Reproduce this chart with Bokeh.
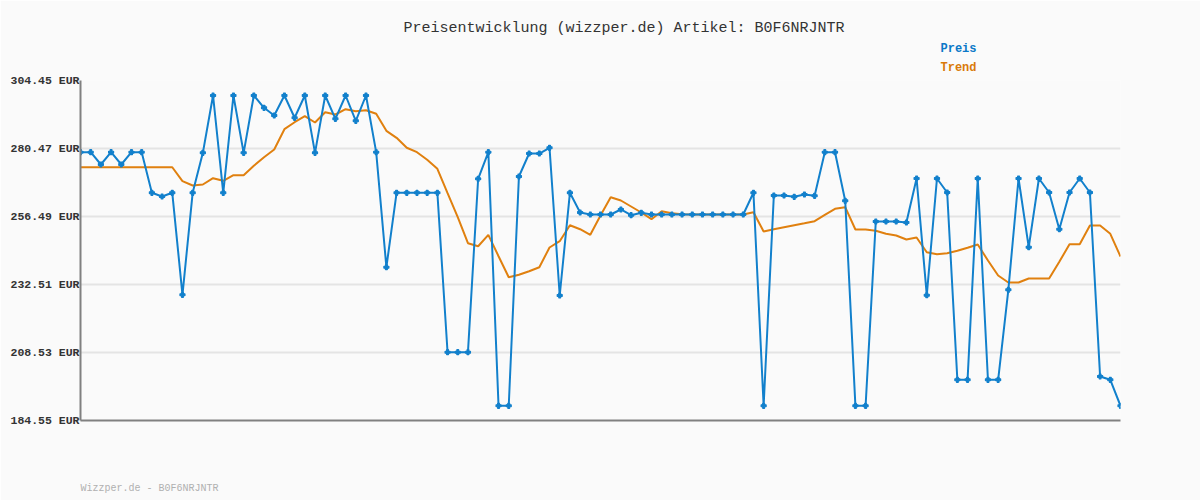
from bokeh.plotting import figure
from bokeh.models import FixedTicker, ColumnDataSource, Title
from bokeh.embed import file_html
from bokeh.resources import INLINE

title_text = "Preisentwicklung (wizzper.de) Artikel: B0F6NRJNTR"
footer_text = "Wizzper.de - B0F6NRJNTR"
series_names = ["Preis", "Trend"]
y_ticks = [184.55, 208.53, 232.51, 256.49, 280.47, 304.45]
y_tick_labels = ["184.55 EUR", "208.53 EUR", "232.51 EUR", "256.49 EUR", "280.47 EUR", "304.45 EUR"]

preis = [
    279.17, 279.17, 274.83, 279.17, 274.83, 279.17, 279.17, 264.85, 263.54, 264.85,
    228.88, 264.85, 278.95, 299.16, 264.85, 299.16, 278.95, 299.16, 294.82, 292.10,
    299.16, 291.30, 299.16, 278.95, 299.16, 290.94, 299.16, 290.24, 299.16, 279.17,
    238.61, 264.85, 264.85, 264.85, 264.85, 264.85, 208.63, 208.63, 208.63, 269.78,
    279.17, 189.73, 189.73, 270.60, 278.70, 278.70, 280.72, 228.63, 264.85, 257.90,
    257.20, 257.20, 257.20, 258.96, 256.95, 257.80, 257.20, 257.20, 257.20, 257.20,
    257.20, 257.20, 257.20, 257.20, 257.20, 257.20, 264.85, 189.73, 263.90, 263.90,
    263.44, 264.25, 263.79, 279.17, 279.17, 262.03, 189.73, 189.73, 254.73, 254.73,
    254.73, 254.37, 269.89, 228.74, 269.89, 264.95, 198.90, 198.90, 269.89, 198.90,
    198.90, 230.64, 269.89, 245.66, 269.89, 264.95, 252.01, 264.95, 269.89, 264.95,
    200.07, 198.90, 189.73,
]

trend = [
    273.87, 273.87, 273.87, 273.87, 273.87, 273.87, 273.87, 273.87, 273.87, 273.87,
    268.94, 267.42, 267.77, 270.00, 269.08, 271.05, 271.05, 274.37, 277.40, 280.12,
    287.28, 289.74, 291.86, 289.64, 293.27, 292.46, 294.33, 293.62, 293.98, 292.71,
    286.71, 284.24, 280.72, 279.17, 276.49, 273.31, 264.71, 256.24, 247.07, 246.01,
    250.03, 242.49, 235.08, 235.93, 237.20, 238.61, 245.56, 247.78, 253.42, 252.01,
    250.03, 256.84, 263.30, 262.13, 260.02, 257.90, 255.54, 258.36, 257.65, 257.30,
    257.20, 257.20, 257.20, 257.20, 257.20, 257.20, 258.00, 251.20, 252.00, 252.70,
    253.40, 254.10, 254.83, 257.09, 259.20, 259.77, 251.90, 251.90, 251.45, 250.39,
    249.79, 248.38, 249.08, 243.90, 243.20, 243.55, 244.40, 245.45, 246.62, 240.97,
    235.68, 233.21, 233.21, 234.63, 234.63, 234.63, 240.52, 246.72, 246.72, 253.32,
    253.32, 250.39, 242.38,
]

idx = list(range(len(preis)))
src = ColumnDataSource(dict(x=idx, preis=preis, trend=trend))

BG = "#fafafa"
BLUE = "#1280cc"
ORANGE = "#e0800f"
MONO = "Liberation Mono"

p = figure(
    width=1200, height=500,
    min_border_left=80, min_border_right=80, min_border_top=80, min_border_bottom=80,
    x_range=(0, len(preis) - 1), y_range=(y_ticks[0], y_ticks[-1]),
    output_backend="svg", toolbar_location=None,
    background_fill_color=BG, border_fill_color=BG, outline_line_color=None,
)

p.xgrid.visible = False
p.ygrid.ticker = FixedTicker(ticks=y_ticks)
p.ygrid.grid_line_color = "#e4e4e4"
p.ygrid.grid_line_width = 2

p.yaxis.ticker = FixedTicker(ticks=y_ticks)
p.yaxis.major_label_overrides = {t: l for t, l in zip(y_ticks, y_tick_labels)}
p.yaxis.major_tick_out = 0
p.yaxis.major_tick_in = 0
p.yaxis.minor_tick_out = 0
p.yaxis.minor_tick_in = 0
p.yaxis.major_label_standoff = 1
p.yaxis.axis_line_color = "#808080"
p.yaxis.axis_line_width = 2
p.yaxis.major_label_text_font = MONO
p.yaxis.major_label_text_font_style = "bold"
p.yaxis.major_label_text_font_size = "11.5px"
p.yaxis.major_label_text_color = "#333333"

p.xaxis.ticker = FixedTicker(ticks=[])
p.xaxis.major_tick_out = 0
p.xaxis.major_tick_in = 0
p.xaxis.minor_tick_out = 0
p.xaxis.minor_tick_in = 0
p.xaxis.major_label_text_font_size = "0px"
p.xaxis.major_label_standoff = 0
p.xaxis.axis_line_color = "#808080"
p.xaxis.axis_line_width = 2

p.line("x", "trend", source=src, line_color=ORANGE, line_width=2)
p.line("x", "preis", source=src, line_color=BLUE, line_width=2)
p.scatter("x", "preis", source=src, marker="plus", size=5, color=BLUE, line_width=1.2)

# panels stacked above the frame (first added = closest to frame)
p.add_layout(Title(text=" ", text_font_size="1px", standoff=3), "above")
p.add_layout(Title(text=series_names[1], align="left", offset=860, standoff=0,
                   text_font=MONO, text_font_size="12px", text_font_style="bold",
                   text_color="#d97a0a"), "above")
p.add_layout(Title(text=series_names[0], align="left", offset=860, standoff=6,
                   text_font=MONO, text_font_size="12px", text_font_style="bold",
                   text_color="#0a78c8"), "above")
p.add_layout(Title(text=title_text, align="left", offset=323, standoff=0,
                   text_font=MONO, text_font_size="15px", text_font_style="normal",
                   text_color="#333333"), "above")
# panels below the frame
p.add_layout(Title(text=" ", text_font_size="1px", standoff=57), "below")
p.add_layout(Title(text=footer_text, align="left", offset=0, standoff=0,
                   text_font=MONO, text_font_size="10px", text_font_style="normal",
                   text_color="#b0b0b0"), "below")

open("out.html", "w").write(file_html(p, INLINE))
